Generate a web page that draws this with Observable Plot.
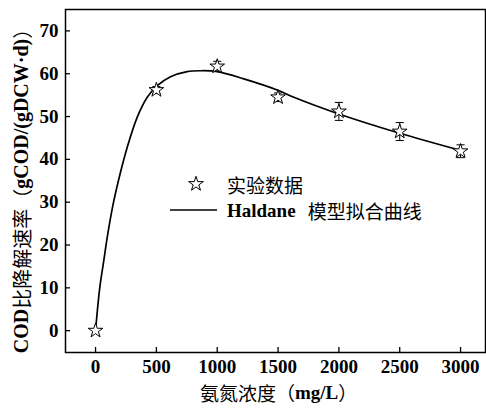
<!DOCTYPE html>
<html><head><meta charset="utf-8">
<script src="https://cdn.jsdelivr.net/npm/d3@7"></script>
<script src="https://cdn.jsdelivr.net/npm/@observablehq/plot@0.6"></script>
<style>
body{margin:0;background:#fff}
#chart{position:relative;width:486px;height:409px}
</style>
</head><body><div id="chart"></div>
<script>
// Experimental data (ammonia nitrogen concentration mg/L vs COD specific degradation rate)
const conc = [0, 500, 1000, 1500, 2000, 2500, 3000];
const rate = [0, 56.2, 61.7, 54.5, 51.2, 46.5, 41.9];
const err  = [0, 0.8, 1.2, 1.0, 2.1, 2.1, 1.5];
// Haldane fitted curve
const fitConc = [0, 35, 68, 96, 145, 205, 260, 342, 425, 507, 616, 753, 863, 1000, 1219, 1493, 1630, 2000, 2500, 3000];
const fitRate = [0, 10.1, 16.4, 21.8, 29.6, 37.0, 42.8, 49.8, 54.5, 57.2, 59.3, 60.5, 60.7, 60.5, 58.8, 56.2, 54.5, 50.6, 46.1, 42.1];
const xTicks = [0, 500, 1000, 1500, 2000, 2500, 3000];
const yTicks = [0, 10, 20, 30, 40, 50, 60, 70];
const legendLabels = ["实验数据", "Haldane", "模型拟合曲线"];
const yTitleParts = ["COD", "比降解速率", "（", "gCOD/(gDCW·d)", "）"];

const points = conc.map((c, i) => ({c, r: rate[i], e: err[i]}));
const fit = fitConc.map((c, i) => ({c, r: fitRate[i]}));
const bars = points.filter(d => d.e > 0);

const W = 486, H = 409, ML = 65, MR = 1, MT = 9, MB = 57, TICK = 5;
const capSymbol = {draw(ctx, size) { const w = Math.sqrt(size); ctx.moveTo(-w, 0); ctx.lineTo(w, 0); }};
const SERIF = "'Liberation Serif','Times New Roman',serif";
const CJK = "'Noto Sans CJK SC','Noto Sans CJK JP',sans-serif";

const plot = Plot.plot({
  width: W, height: H,
  marginLeft: ML, marginRight: MR, marginTop: MT, marginBottom: MB,
  x: {domain: [-247, 3205]},
  y: {domain: [-5.1, 75]},
  style: {fontFamily: SERIF, fontWeight: "bold", fontSize: "19px", color: "#000", background: "#fff"},
  marks: [
    Plot.frame({stroke: "#000", strokeWidth: 1.5}),
    Plot.axisX({ticks: xTicks, tickSize: 0, tickPadding: 7, tickFormat: d => String(d), label: null, fontSize: 19, fontWeight: "bold"}),
    Plot.axisY({ticks: yTicks, tickSize: 0, tickPadding: 7, tickFormat: d => String(d), label: null, fontSize: 19, fontWeight: "bold"}),
    // inward tick marks
    Plot.tickX(xTicks, {x: d => d, insetTop: H - MT - MB - TICK, stroke: "#000", strokeWidth: 1.3}),
    Plot.tickY(yTicks, {y: d => d, insetRight: W - ML - MR - TICK, stroke: "#000", strokeWidth: 1.3}),
    Plot.line(fit, {x: "c", y: "r", curve: "catmull-rom", stroke: "#000", strokeWidth: 1.7}),
    Plot.ruleX(bars, {x: "c", y1: d => d.r - d.e, y2: d => d.r + d.e, stroke: "#000", strokeWidth: 1}),
    Plot.dot(bars, {x: "c", y: d => d.r - d.e, symbol: capSymbol, r: 2.3, stroke: "#000", strokeWidth: 1}),
    Plot.dot(bars, {x: "c", y: d => d.r + d.e, symbol: capSymbol, r: 2.3, stroke: "#000", strokeWidth: 1}),
    Plot.dot(points, {x: "c", y: "r", symbol: "star", r: 4.6, fill: "#fff", stroke: "#000", strokeWidth: 1})
  ]
});
document.getElementById("chart").appendChild(plot);

const svg = d3.select(plot);
// Legend
const lg = svg.append("g").attr("text-anchor", "start").attr("fill", "#000");
lg.append("path").attr("transform", "translate(196,184)")
  .attr("d", d3.symbol(d3.symbolStar, Math.PI * 4.6 * 4.6)())
  .attr("fill", "#fff").attr("stroke", "#000").attr("stroke-width", 1);
lg.append("text").attr("x", 227).attr("y", 184).attr("dominant-baseline", "central")
  .attr("font-family", CJK).attr("font-weight", "normal").attr("font-size", 19).text(legendLabels[0]);
lg.append("line").attr("x1", 170).attr("x2", 217).attr("y1", 210).attr("y2", 210)
  .attr("stroke", "#000").attr("stroke-width", 1.7);
const t2 = lg.append("text").attr("x", 227).attr("y", 210).attr("dominant-baseline", "central").attr("font-size", 19);
t2.append("tspan").attr("font-family", SERIF).attr("font-weight", "bold").text(legendLabels[1]);
t2.append("tspan").attr("font-family", CJK).attr("font-weight", "normal").attr("dx", 12).text(legendLabels[2]);

// X title
svg.append("text").attr("x", 200).attr("y", 392).attr("dominant-baseline", "central")
  .attr("text-anchor", "start").attr("font-size", 19).attr("fill", "#000")
  .call(t => {
    t.append("tspan").attr("font-family", CJK).attr("font-weight", "normal").text("氨氮浓度（");
    t.append("tspan").attr("font-family", SERIF).attr("font-weight", "bold").text("mg/L");
    t.append("tspan").attr("font-family", CJK).attr("font-weight", "normal").text("）");
  });

// Y title
svg.append("text").attr("transform", "translate(21,186) rotate(-90)")
  .attr("text-anchor", "middle").attr("dominant-baseline", "central").attr("font-size", 20).attr("fill", "#000")
  .call(t => {
    const fonts = [[SERIF, "bold"], [CJK, "normal"], [CJK, "normal"], [SERIF, "bold"], [CJK, "normal"]];
    yTitleParts.forEach((p, i) => t.append("tspan").attr("font-family", fonts[i][0]).attr("font-weight", fonts[i][1]).text(p));
  });
</script>
</body></html>
